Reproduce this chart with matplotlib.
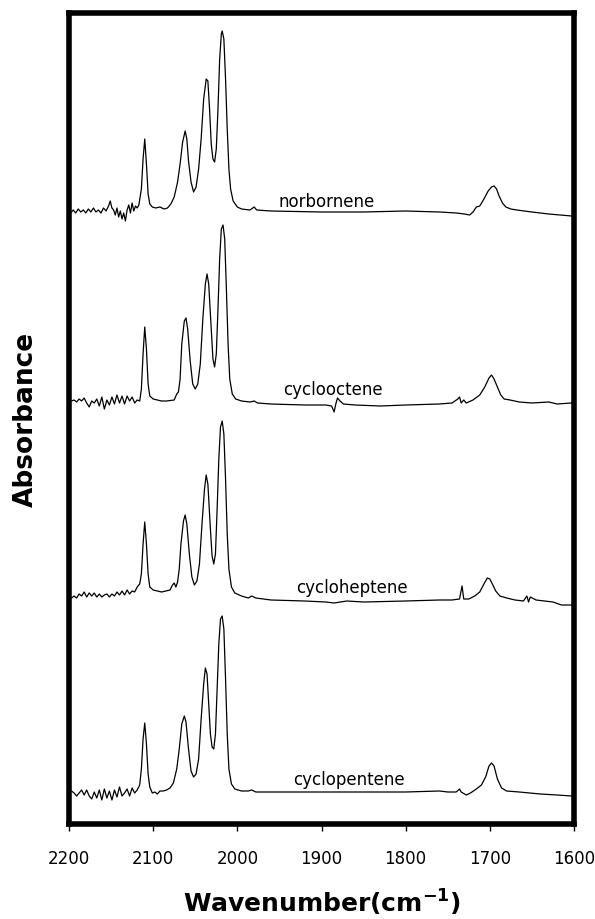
import numpy as np
import matplotlib
matplotlib.use('Agg')
import matplotlib.pyplot as plt

wn_norb = [2197, 2195, 2192, 2189, 2186, 2183, 2180, 2177, 2174, 2171, 2168, 2165, 2162, 2159, 2156, 2153,
           2151, 2149, 2147, 2145, 2143, 2141, 2139, 2137, 2135, 2133, 2131, 2129, 2127, 2125, 2123, 2121,
           2119, 2117, 2114, 2112, 2110, 2108, 2106, 2104, 2101, 2097, 2092, 2087, 2083, 2079, 2075, 2071,
           2068, 2065, 2062, 2060, 2058, 2055, 2052, 2049, 2046, 2043, 2040, 2037, 2035, 2033, 2031, 2029,
           2027, 2025, 2023, 2021, 2019, 2018, 2016, 2014, 2012, 2010, 2008, 2005, 2000, 1995, 1985, 1980,
           1977, 1960, 1900, 1850, 1800, 1760, 1740, 1730, 1724, 1720, 1716, 1712, 1707, 1702, 1698, 1695,
           1692, 1689, 1685, 1681, 1675, 1668, 1650, 1630, 1603]
abs_norb = [-1, 1, -2, 2, -1, 1, -2, 2, -1, 3, -1, 1, -2, 3, 0, 5,
            10, 3, 1, -4, 3, -6, 0, -8, -2, -10, 1, 6, -2, 8, 0, 5,
            3, 6, 22, 52, 72, 47, 17, 7, 4, 3, 4, 2, 3, 7, 14, 29,
            47, 69, 80, 72, 50, 29, 19, 24, 42, 72, 112, 132, 130, 102, 67, 52,
            49, 62, 102, 152, 177, 180, 172, 132, 82, 42, 22, 10, 4, 2, 1, 4,
            1, 0, -1, -1, 0, -1, -2, -3, -4, -1, 4, 5, 12, 20, 24, 25,
            22, 15, 8, 4, 2, 1, -1, -3, -5]

wn_coct = [2197, 2194, 2191, 2188, 2185, 2182, 2179, 2176, 2173, 2170, 2167, 2164, 2161, 2158, 2155, 2152,
           2149, 2146, 2143, 2140, 2137, 2134, 2131, 2128, 2125, 2122, 2119, 2116, 2114, 2112, 2110, 2108,
           2106, 2104, 2100, 2095, 2090, 2084, 2075, 2072, 2070, 2068, 2066, 2063, 2061, 2059, 2056, 2053,
           2050, 2047, 2044, 2041, 2038, 2036, 2034, 2031, 2029, 2027, 2025, 2023, 2021, 2019, 2017, 2015,
           2013, 2011, 2009, 2006, 2002, 1995, 1985, 1980, 1976, 1960, 1920, 1895, 1888, 1885, 1883, 1881,
           1878, 1874, 1860, 1830, 1800, 1760, 1745, 1738, 1736, 1734, 1731, 1728, 1720, 1712, 1706, 1701,
           1698, 1695, 1691, 1687, 1683, 1676, 1665, 1650, 1630, 1620, 1603]
abs_coct = [3, 4, 2, 5, 3, 6, 1, -3, 3, 1, 5, -2, 7, -5, 4, -1,
            7, 0, 9, 1, 8, 0, 8, 3, 7, 1, 4, 3, 15, 50, 77, 55,
            20, 8, 5, 4, 3, 3, 4, 10, 12, 25, 60, 83, 86, 75, 43, 20,
            15, 20, 40, 85, 120, 130, 120, 75, 45, 37, 50, 95, 145, 175, 179, 165,
            115, 60, 25, 10, 5, 3, 2, 3, 1, 0, -1, -1, -2, -8, 0, 6,
            3, 0, -1, -2, -1, 0, 1, 5, 7, 1, 4, 1, 4, 9, 17, 26,
            29, 25, 17, 9, 5, 4, 2, 1, 2, 0, 1]

wn_chep = [2197, 2194, 2191, 2188, 2185, 2182, 2179, 2176, 2173, 2170, 2167, 2164, 2161, 2158, 2155, 2152,
           2149, 2146, 2143, 2140, 2137, 2134, 2131, 2128, 2125, 2122, 2119, 2116, 2114, 2112, 2110, 2108,
           2106, 2104, 2100, 2095, 2090, 2085, 2080, 2077, 2075, 2073, 2071, 2069, 2067, 2064, 2062, 2060,
           2057, 2054, 2051, 2048, 2045, 2042, 2039, 2037, 2035, 2032, 2030, 2028, 2026, 2024, 2022, 2020,
           2018, 2016, 2014, 2012, 2010, 2007, 2003, 1995, 1987, 1983, 1978, 1960, 1920, 1895, 1885, 1870,
           1850, 1800, 1760, 1745, 1736, 1733, 1731, 1725, 1718, 1712, 1707, 1703, 1700, 1697, 1693, 1688,
           1680, 1670, 1660, 1656, 1654, 1652, 1645, 1635, 1625, 1615, 1603]
abs_chep = [1, 3, 1, 5, 3, 7, 2, 6, 3, 6, 2, 5, 2, 4, 5, 2,
            5, 3, 7, 4, 8, 4, 9, 5, 8, 7, 12, 15, 25, 55, 77, 55,
            25, 12, 9, 8, 7, 8, 9, 14, 16, 12, 17, 30, 55, 78, 84, 75,
            45, 22, 14, 18, 35, 75, 110, 124, 115, 70, 43, 35, 45, 90, 140, 172,
            178, 165, 120, 65, 30, 12, 6, 3, 1, 3, 1, -1, -2, -3, -4, -2,
            -3, -2, -1, -1, 0, 13, 0, 0, 3, 7, 15, 21, 20, 15, 8, 3,
            1, -1, -2, 3, -3, 2, -1, -2, -3, -6, -6]

wn_cpen = [2197, 2194, 2191, 2188, 2185, 2182, 2179, 2176, 2173, 2170, 2167, 2164, 2161, 2158, 2155, 2152,
           2149, 2146, 2143, 2140, 2137, 2134, 2131, 2128, 2125, 2122, 2119, 2116, 2114, 2112, 2110, 2108,
           2106, 2104, 2101, 2098, 2095, 2092, 2088, 2084, 2080, 2076, 2072, 2069, 2066, 2063, 2061, 2058,
           2055, 2052, 2049, 2046, 2043, 2040, 2038, 2036, 2034, 2032, 2030, 2028, 2026, 2024, 2022, 2020,
           2018, 2016, 2014, 2012, 2010, 2007, 2003, 1995, 1987, 1983, 1978, 1960, 1900, 1850, 1800, 1760,
           1750, 1740, 1736, 1734, 1728, 1723, 1716, 1710, 1705, 1701, 1698, 1695, 1691, 1686, 1680, 1665,
           1640, 1620, 1603]
abs_cpen = [1, -1, -4, -1, 2, -3, 2, -4, -7, 0, -6, 2, -8, 3, -6, 1,
            -8, 2, -5, 5, -4, -1, 3, -4, 4, -1, 2, 7, 23, 53, 69, 48,
            18, 5, -1, 0, -2, 1, 1, 2, 4, 9, 23, 43, 68, 76, 70, 43,
            21, 15, 18, 33, 73, 108, 124, 118, 88, 58, 45, 43, 58, 103, 148, 173,
            176, 163, 113, 58, 23, 8, 3, 1, 1, 2, 0, 0, 0, 0, 0, 1,
            0, 0, 3, 0, -3, -1, 3, 7, 15, 26, 29, 26, 13, 4, 1, 0,
            -2, -3, -4]

names = ['norbornene', 'cyclooctene', 'cycloheptene', 'cyclopentene']
offsets = [613, 420, 225, 32]
label_wn = [1894, 1886, 1864, 1867]
label_y = [618, 430, 232, 40]

spectra = [(wn_norb, abs_norb), (wn_coct, abs_coct), (wn_chep, abs_chep), (wn_cpen, abs_cpen)]

fig = plt.figure(figsize=(5.95, 9.2), dpi=100)
ax = fig.add_axes([69/595, 1-825/920, (574-69)/595, (825-14)/920])

for (wn, a), off, name, lx, ly in zip(spectra, offsets, names, label_wn, label_y):
    ax.plot(wn, np.array(a) + off, color='black', lw=0.9)
    ax.text(lx, ly, name, ha='center', va='baseline', fontsize=12)

ax.set_xlim(2200, 1600)
ax.set_ylim(0, 811)
ax.set_xticks([2200, 2100, 2000, 1900, 1800, 1700, 1600])
ax.set_yticks([])
ax.tick_params(axis='x', direction='out', length=5, width=1, pad=13, labelsize=12)
for s in ax.spines.values():
    s.set_linewidth(4)

ax.set_xlabel(r'Wavenumber(cm$^{\mathbf{-1}}$)', fontsize=18, fontweight='bold', labelpad=14)
ax.set_ylabel('Absorbance', fontsize=19, fontweight='bold', labelpad=22)

fig.savefig('out.png', dpi=100)
